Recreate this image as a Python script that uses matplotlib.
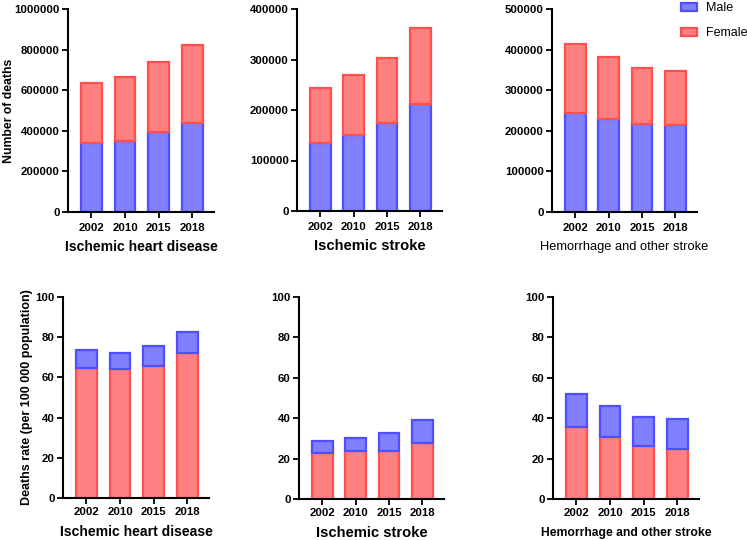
import matplotlib
matplotlib.use("Agg")
import matplotlib.pyplot as plt
import numpy as np

plt.rcParams['font.family'] = ['Liberation Sans', 'DejaVu Sans']

years = ["2002", "2010", "2015", "2018"]

# Number of deaths (top row): male bottom, female stacked on top
ihd_male = [340000, 351000, 394000, 437000]
ihd_female = [294000, 312000, 345000, 384000]
is_male = [134500, 151000, 174000, 212600]
is_female = [109500, 118000, 128000, 150400]
hs_male = [245000, 228000, 216000, 214000]
hs_female = [168000, 153000, 138000, 134000]

# Deaths rate per 100 000 (bottom row): female bottom, male stacked on top
ihd_rate_female = [64.5, 64.2, 65.7, 72.1]
ihd_rate_male = [9.0, 7.9, 10.1, 10.5]
is_rate_female = [23.0, 23.8, 24.0, 27.7]
is_rate_male = [5.6, 6.4, 8.9, 11.4]
hs_rate_female = [35.8, 30.9, 26.0, 24.7]
hs_rate_male = [16.2, 15.0, 14.6, 14.9]

titles = ["Ischemic heart disease", "Ischemic stroke", "Hemorrhage and other stroke"]

W, H = 747, 540
fig = plt.figure(figsize=(W / 100, H / 100), dpi=100)

def add_ax(x0, x1, y0, y1):
    return fig.add_axes([x0 / W, 1 - y1 / H, (x1 - x0) / W, (y1 - y0) / H])

BLUE_F, BLUE_E = "#8080FF", "#4F4FFF"
RED_F, RED_E = "#FF8080", "#FF4F4F"

def style(ax, ymax, step, xpad=4):
    ax.set_xlim(-0.7, 3.65)
    ax.set_ylim(0, ymax)
    ax.set_yticks(np.arange(0, ymax + 1, step))
    ax.ticklabel_format(axis="y", style="plain", useOffset=False)
    ax.set_xticks(range(len(years)))
    ax.set_xticklabels(years)
    for s in ["top", "right"]:
        ax.spines[s].set_visible(False)
    for s in ["left", "bottom"]:
        ax.spines[s].set_linewidth(1.5)
    ax.tick_params(axis="both", length=4, width=1.3, labelsize=8.2, pad=2)
    ax.tick_params(axis="x", pad=xpad)
    for lab in ax.get_xticklabels() + ax.get_yticklabels():
        lab.set_fontweight("bold")

def stacked(ax, bottom_vals, top_vals, bottom_col, top_col):
    x = np.arange(len(years))
    bw = 0.62
    b = ax.bar(x, bottom_vals, width=bw, color=bottom_col[0], edgecolor=bottom_col[1], linewidth=1.6)
    t = ax.bar(x, top_vals, width=bw, bottom=bottom_vals, color=top_col[0], edgecolor=top_col[1], linewidth=1.6)
    return b, t

blue = (BLUE_F, BLUE_E)
red = (RED_F, RED_E)

# Top row
ax1 = add_ax(68, 214, 9, 212)
stacked(ax1, ihd_male, ihd_female, blue, red)
style(ax1, 1000000, 200000)
ax1.set_ylabel("Number of deaths", fontsize=8.8, fontweight="bold")
ax1.yaxis.set_label_coords((15 - 68) / 146, 0.5)
ax1.set_xlabel(titles[0], fontsize=10.1, fontweight="bold", labelpad=5)

ax2 = add_ax(297, 442, 9, 211)
stacked(ax2, is_male, is_female, blue, red)
style(ax2, 400000, 100000)
ax2.set_xlabel(titles[1], fontsize=10.6, fontweight="bold", labelpad=5)

ax3 = add_ax(552, 697, 9, 212)
hb, ht = stacked(ax3, hs_male, hs_female, blue, red)
style(ax3, 500000, 100000)
ax3.set_xlabel(titles[2], fontsize=9.3, fontweight="normal", labelpad=6)

# Bottom row
ax4 = add_ax(63, 209, 297, 498)
stacked(ax4, ihd_rate_female, ihd_rate_male, red, blue)
style(ax4, 100, 20, xpad=2.5)
ax4.set_ylabel("Deaths rate (per 100 000 population)", fontsize=9, fontweight="bold")
ax4.yaxis.set_label_coords((33 - 63) / 146, 0.5)
ax4.set_xlabel(titles[0], fontsize=10.1, fontweight="bold", labelpad=6)

ax5 = add_ax(299, 444, 297, 499)
stacked(ax5, is_rate_female, is_rate_male, red, blue)
style(ax5, 100, 20, xpad=2.5)
ax5.set_xlabel(titles[1], fontsize=10.6, fontweight="bold", labelpad=5.5)

ax6 = add_ax(553, 699, 297, 499)
stacked(ax6, hs_rate_female, hs_rate_male, red, blue)
style(ax6, 100, 20, xpad=2.5)
ax6.set_xlabel(titles[2], fontsize=8.7, fontweight="bold", labelpad=6.3)

fig.legend([hb, ht], ["Male", "Female"], loc="upper left",
           bbox_to_anchor=(681 / W, 1 - 2 / H), frameon=False,
           fontsize=9, handlelength=1.3, handleheight=0.6,
           labelspacing=1.05, handletextpad=0.7, borderaxespad=0, borderpad=0)

fig.savefig("out.png", dpi=100)
